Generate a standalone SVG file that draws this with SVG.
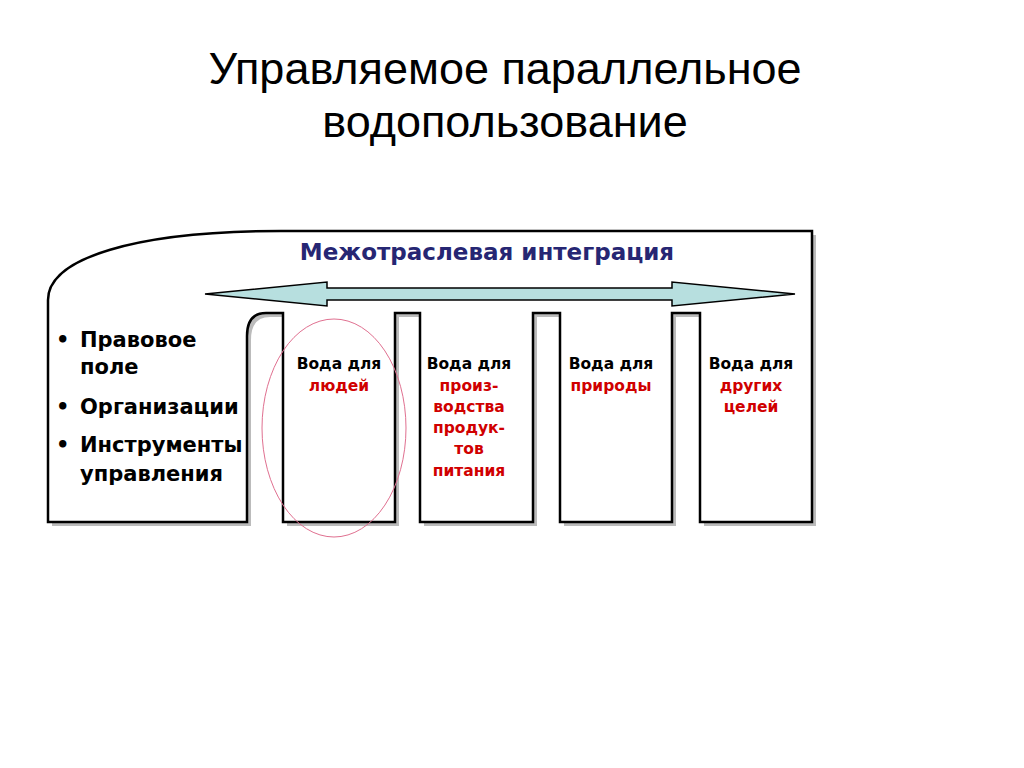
<svg xmlns="http://www.w3.org/2000/svg" width="1024" height="768" viewBox="0 0 1024 768">
<style>
.t{font-family:"Liberation Sans",Arial,sans-serif}
.b{font-family:"DejaVu Sans","Liberation Sans",sans-serif;font-weight:bold}
.k{fill:#000}
.r{fill:#d00000}
</style>
<rect width="1024" height="768" fill="#fff"/>
<text class="t" x="505" y="84" font-size="45" text-anchor="middle">Управляемое параллельное</text>
<text class="t" x="505" y="137" font-size="45" text-anchor="middle">водопользование</text>
<g id="frame">
<path d="M52,526 V304 C52,262 140,235 285,235 H816 V526 H704 V317 H676 V526 H564 V317 H537 V526 H424 V317 H399 V526 H287 V317 H270 Q251,317 251,340 V526 Z" fill="#bbb" stroke="none"/>
<path d="M48,522 V300 C48,258 136,231 281,231 H812 V522 H700 V313 H672 V522 H560 V313 H533 V522 H420 V313 H395 V522 H283 V313 H266 Q247,313 247,336 V522 Z" fill="#fff" stroke="#000" stroke-width="2.5"/>
</g>
<g id="arrow">
<path d="M205,294 L327,282 V288 H672 V282 L795,294 L672,306 V300 H327 V306 Z" fill="#b7dfdf" stroke="#000" stroke-width="1.5"/>
</g>
<text class="b" x="487" y="260" font-size="23" fill="#262673" text-anchor="middle">Межотраслевая интеграция</text>
<g id="left" class="b" font-size="21">
<text x="56" y="347">•</text><text x="80" y="347">Правовое</text>
<text x="80" y="374">поле</text>
<text x="56" y="414">•</text><text x="80" y="414">Организации</text>
<text x="56" y="452">•</text><text x="80" y="452">Инструменты</text>
<text x="80" y="481">управления</text>
</g>
<g class="b" font-size="15.5" text-anchor="middle">
<g id="n1"><text class="k" x="339" y="369">Вода для</text><text class="r" x="339" y="391">людей</text></g>
<g id="n2"><text class="k" x="469" y="369">Вода для</text><text class="r" x="469" y="391">произ-</text><text class="r" x="469" y="412">водства</text><text class="r" x="469" y="433">продук-</text><text class="r" x="469" y="454">тов</text><text class="r" x="469" y="476">питания</text></g>
<g id="n3"><text class="k" x="611" y="369">Вода для</text><text class="r" x="611" y="391">природы</text></g>
<g id="n4"><text class="k" x="751" y="369">Вода для</text><text class="r" x="751" y="391">других</text><text class="r" x="751" y="412">целей</text></g>
</g>
<ellipse cx="334" cy="428" rx="72" ry="109" fill="none" stroke="#e07090" stroke-width="1"/>
</svg>
